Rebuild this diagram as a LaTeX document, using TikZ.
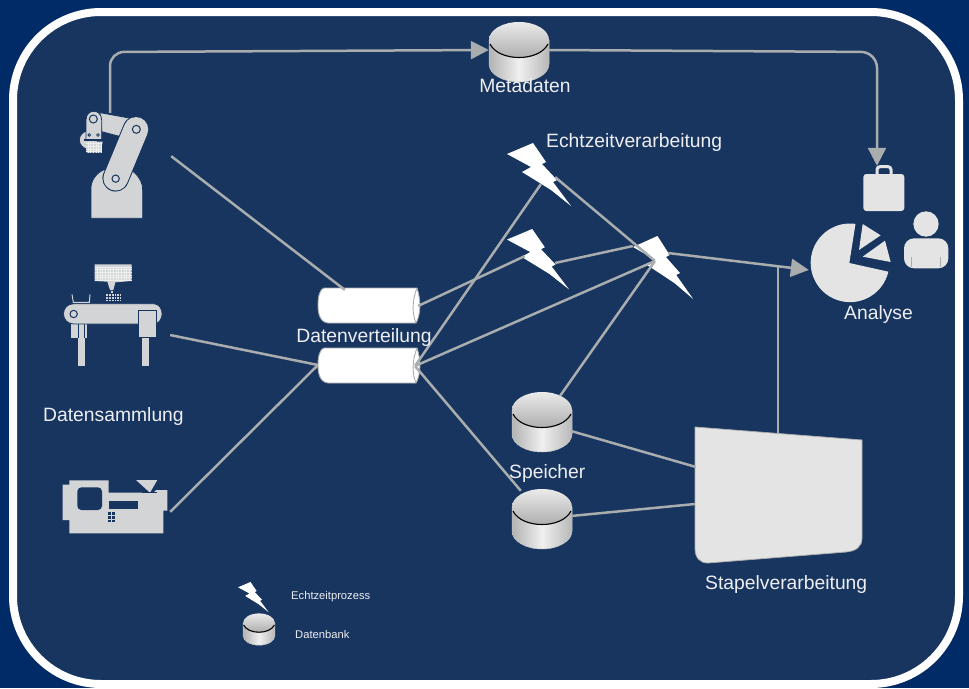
\documentclass[tikz,border=0pt]{standalone}
\usepackage{fontspec}
\setmainfont{Liberation Sans}
\usetikzlibrary{arrows.meta}
\definecolor{outerbg}{HTML}{002B66}
\definecolor{innerbg}{HTML}{17355F}
\definecolor{wire}{HTML}{A9ADAE}
\definecolor{iconA}{HTML}{D2D4D5}
\definecolor{iconB}{HTML}{E4E4E4}
\definecolor{gridc}{HTML}{EDEEEE}
\definecolor{labelc}{HTML}{EEEEF2}
\tikzset{
  x=1pt,y=-1pt,
  wireline/.style={draw=wire,line width=2.5pt},
  bigarrow/.style={wireline,-{Triangle[length=18pt,width=18pt]}},
  lab/.style={text=labelc,font=\fontsize{19.3}{20}\selectfont,inner sep=0pt},
  smalllab/.style={text=labelc,font=\fontsize{11.2}{12}\selectfont,inner sep=0pt},
  anchorbox/.style={inner sep=0pt,minimum size=0pt},
  iconf/.style={fill=iconA,draw=innerbg,line width=.8pt},
  anal/.style={fill=iconB,draw=none},
  db/.pic={
    \path[draw=wire!70!white,line width=.5pt,left color=black!30,right color=black!28,middle color=black!6]
      (-30,-2) -- (-30,22) arc[start angle=180,end angle=0,x radius=30,y radius=18] -- (30,-2) -- cycle;
    \path[top color=black!8,bottom color=black!32,draw=none]
      (0,-2) circle[x radius=30,y radius=18];
    \draw[black,line width=1.1pt] (-29,2) .. controls (-20,20) and (20,20) .. (29,2);
  },
  bolt/.pic={
    \fill[white] (0,11) -- (26,0) -- (39,19) -- (35,21) -- (50,37) -- (46,39) -- (64,63)
      -- (44,47) -- (36,42) -- (15,29) -- (24,24) -- cycle;
  },
  pipe/.pic={
    \path[fill=white,draw=wire,line width=.9pt]
      (6,0) -- (99,0) .. controls (103,12) and (103,26) .. (98,35) -- (10,35)
      .. controls (2,34) and (0,26) .. (0,17) .. controls (0,8) and (2,1) .. (6,0) -- cycle;
    \draw[wire,line width=.9pt] (99,0) .. controls (94,12) and (94,26) .. (98,35);
  }
}
\begin{document}
\begin{tikzpicture}
\useasboundingbox (0,0) rectangle (969,688);
\fill[outerbg] (0,0) rectangle (969,688);
\path[fill=innerbg,draw=white,line width=8pt,rounded corners=88pt] (13,12) rectangle (959,684);

% --- robot
\begin{scope}[shift={(60,90)},scale=1/3]
  \path[iconf] (93,385) -- (93,290) .. controls (95,265) and (115,245) .. (135,238) -- (220,245)
     .. controls (240,262) and (248,280) .. (248,300) -- (248,385) -- cycle;
  \path[iconf] (120,68) -- (218,86) -- (240,150) -- (190,142) -- (125,125) -- cycle;
  \draw[innerbg,line width=26.5pt,line cap=round] (167,265) -- (228,118);
  \draw[iconA,line width=24.5pt,line cap=round] (167,265) -- (228,118);
  \draw[innerbg,line width=1pt] (167,266) circle[radius=11];
  \draw[innerbg,line width=1pt] (229,118) circle[radius=12];
  \path[iconf] (85,150) circle[radius=27];
  \path[iconf] (78,90) .. controls (78,55) and (125,55) .. (125,90) -- (125,150) -- (78,150) -- cycle;
  \draw[innerbg,line width=1pt] (100,87) circle[radius=12];
  \draw[innerbg,line width=.8pt] (88,135) circle[radius=4] (114,135) circle[radius=4];
  \draw[innerbg,line width=2pt] (72,150) -- (132,150);
  \fill[iconA] (76,155) -- (128,155) -- (122,188) -- (80,188) -- cycle;
  \foreach \g in {161,169,...,185} \draw[gridc,line width=.4pt] (77,\g) -- (127,\g);
  \foreach \g in {84,92,...,124} \draw[gridc,line width=.4pt] (\g,155) -- (\g,188);
\end{scope}

% --- conveyor
\begin{scope}[shift={(50,255)},scale=1/3]
  \fill[iconA] (134,28) -- (245,28) -- (245,78) -- (196,82) -- (190,105) -- (180,105) -- (172,80) -- (134,78) -- cycle;
  \foreach \g in {36,44,...,76} \draw[gridc,line width=.4pt] (134,\g) -- (245,\g);
  \foreach \g in {142,150,...,245} \draw[gridc,line width=.4pt] (\g,36) -- (\g,78);
  \fill[iconA] (183,107) rectangle (190,114);
  \fill[iconA] (167,118) rectangle (212,142);
  \foreach \g in {124,131,138} \draw[innerbg,line width=.3pt] (167,\g) -- (212,\g);
  \foreach \g in {175,183,...,212} \draw[innerbg,line width=.3pt] (\g,118) -- (\g,142);
  \draw[iconA,line width=1pt] (66,118) -- (70,142) -- (118,142) -- (120,118);
  \fill[iconA] (62,205) rectangle (112,248);
  \fill[iconA] (84,205) rectangle (104,333);
  \draw[innerbg,line width=1pt] (84,208) -- (84,248) (104,208) -- (104,248);
  \fill[iconA] (277,245) rectangle (296,333);
  \path[iconf] (72,146) -- (310,146) .. controls (345,146) and (345,207) .. (310,207) -- (72,207)
     .. controls (30,207) and (30,146) .. (72,146) -- cycle;
  \draw[innerbg,line width=1pt] (71,177) circle[radius=11];
  \path[fill=iconA,draw=innerbg,line width=1pt] (265,166) rectangle (318,248);
\end{scope}

% --- moulding machine
\begin{scope}[shift={(50,470)},scale=1/3]
  \fill[iconA] (258,30) -- (322,30) -- (300,68) -- cycle;
  \fill[iconA] (38,44) -- (58,44) -- (58,31) -- (176,31) -- (176,68) -- (310,68) -- (318,60) -- (352,60) -- (352,122) -- (340,122)
     -- (340,190) -- (58,190) -- (58,150) -- (38,150) -- cycle;
  \draw[innerbg,line width=.8pt] (276,66) -- (322,66);
  \path[fill=innerbg,rounded corners=4pt] (82,52) rectangle (156,120);
  \fill[innerbg] (176,94) rectangle (265,117);
  \foreach \px in {175,186} \foreach \py in {127,138,149} \fill[innerbg] (\px,\py) rectangle ++(8,8);
\end{scope}

% --- analysis icons
\begin{scope}[shift={(790,150)},scale=1/3]
  \path[anal,rounded corners=3pt] (220,72) rectangle (343,183);
  \draw[iconB,line width=3pt,rounded corners=3pt] (261,72) -- (261,50) -- (303,50) -- (303,72);
  \path[anal] (295,365) arc[start angle=13,end angle=278,radius=118] -- (178,339) -- cycle;
  \path[anal] (218,222) -- (272,256) -- (207,300) -- cycle;
  \path[anal] (285,272) -- (302,336) -- (218,320) -- cycle;
  \path[anal] (408,222) circle[radius=38];
  \path[anal,rounded corners=10pt] (342,355) -- (342,265) -- (475,265) -- (475,355) -- cycle;
  \draw[wire,line width=.5pt] (365,320) -- (365,352) (450,320) -- (450,352);
\end{scope}

% --- batch block
\path[fill=iconB,draw=wire,line width=.8pt] (695,427) -- (862,440) -- (862,538) .. controls (862,547) and (856,551) .. (846,552)
   -- (708,563) .. controls (700,563) and (695,558) .. (695,548) -- cycle;

% --- stores, pipes, bolts
\pic at (519,42) {db};
\pic at (542,412) {db};
\pic at (542,509) {db};
\pic[scale=.53] at (259,624) {db};
\pic at (318,288) {pipe};
\pic at (318,348) {pipe};
\pic at (507,143) {bolt};
\pic[xscale=.97,yscale=.96] at (507,229) {bolt};
\pic[xscale=.94] at (633,236) {bolt};
\pic[scale=.48] at (238,582) {bolt};

% --- connector anchors
\node[anchorbox] (robot) at (171,156) {};
\node[anchorbox] (robotup) at (110,113) {};
\node[anchorbox] (conv) at (170,335) {};
\node[anchorbox] (mould) at (170,512) {};
\node[anchorbox] (pipeAin) at (345,290) {};
\node[anchorbox] (pipeAout) at (418,306) {};
\node[anchorbox] (pipeBin) at (318,365) {};
\node[anchorbox] (pipeBout) at (415,366) {};
\node[anchorbox] (metaL) at (489,50) {};
\node[anchorbox] (metaR) at (549,50) {};
\node[anchorbox] (boltAin) at (541,184) {};
\node[anchorbox] (boltAout) at (555,177) {};
\node[anchorbox] (boltBin) at (525,256) {};
\node[anchorbox] (boltBout) at (555,263) {};
\node[anchorbox] (boltCa) at (655,261) {};
\node[anchorbox] (boltCb) at (633,246) {};
\node[anchorbox] (boltCc) at (668,253) {};
\node[anchorbox] (storeAup) at (560,396) {};
\node[anchorbox] (storeAr) at (571,431) {};
\node[anchorbox] (storeBin) at (521,491) {};
\node[anchorbox] (storeBr) at (571,516) {};
\node[anchorbox] (batchA) at (696,467) {};
\node[anchorbox] (batchB) at (695,504) {};
\node[anchorbox] (batchT) at (778,434) {};
\node[anchorbox] (merge) at (778,267) {};
\node[anchorbox] (pieIn) at (809,270) {};
\node[anchorbox] (bagIn) at (877,166) {};

% --- connectors
\draw[wireline] (robot) -- (pipeAin);
\draw[wireline] (conv) -- (pipeBin);
\draw[wireline] (mould) -- (pipeBin);
\draw[wireline] (pipeAout) -- (boltBin);
\draw[wireline] (pipeBout) -- (boltAin);
\draw[wireline] (pipeBout) -- (boltCa);
\draw[wireline] (pipeBout) -- (storeBin);
\draw[wireline] (boltBout) -- (boltCb);
\draw[wireline] (boltAout) -- (boltCa);
\draw[wireline] (storeAup) -- (boltCa);
\draw[wireline] (storeAr) -- (batchA);
\draw[wireline] (storeBr) -- (batchB);
\draw[wireline] (batchT) -- (merge);
\draw[bigarrow] (boltCc) -- (pieIn);
\draw[bigarrow,rounded corners=14pt] (robotup) -- (110,52) -- (metaL);
\draw[bigarrow,rounded corners=16pt] (metaR) -- (877,52) -- (bagIn);

% --- labels
\node[lab] (tMeta) at (525,85.5) {Metadaten};
\node[lab,anchor=west] (tEcht) at (546,143) {Echtzeitverarbeitung};
\node[lab] (tVert) at (364,337.5) {Datenverteilung};
\node[lab,anchor=west] (tSamm) at (43,417) {Datensammlung};
\node[lab,anchor=west] (tSpei) at (509,474) {Speicher};
\node[lab,anchor=west] (tStap) at (705,585) {Stapelverarbeitung};
\node[lab,anchor=west] (tAnal) at (844,315) {Analyse};
\node[smalllab,anchor=west] (tLegA) at (291,596.5) {Echtzeitprozess};
\node[smalllab,anchor=west] (tLegB) at (295,634) {Datenbank};
\end{tikzpicture}
\end{document}
